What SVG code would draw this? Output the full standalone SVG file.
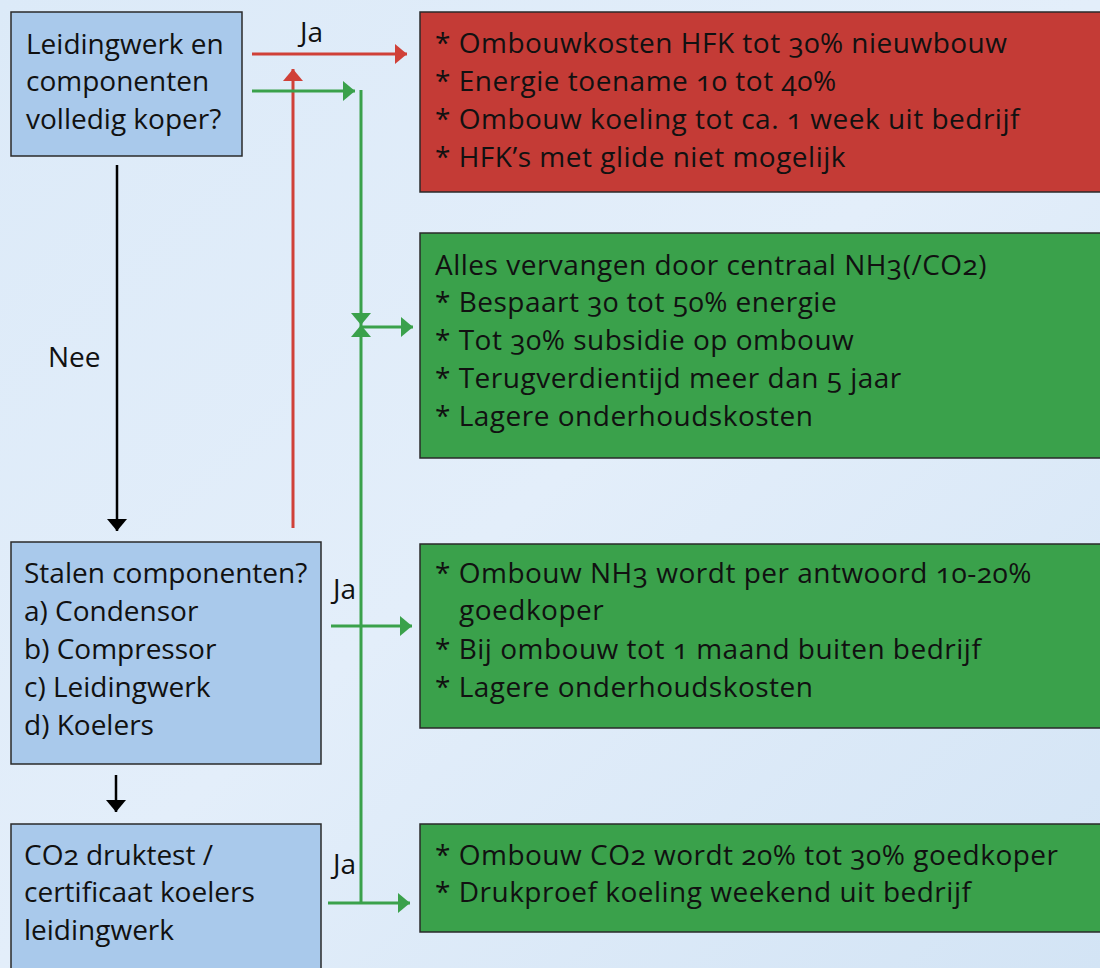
<svg xmlns="http://www.w3.org/2000/svg" width="1100" height="968" viewBox="0 0 1100 968">
<style>
text{font-family:"Open Sans","Noto Sans","Liberation Sans",sans-serif;font-size:28px;fill:#111;font-feature-settings:"onum" 1}
.w text{letter-spacing:0.5px}
.q{fill:#a9c9eb;stroke:#2a2a2a;stroke-width:1.5}
.r{fill:#c43b36;stroke:#2a2a2a;stroke-width:1.5}
.g{fill:#3aa14b;stroke:#2a2a2a;stroke-width:1.5}
.lg{stroke:#3aa14b;stroke-width:3;fill:none}
.lr{stroke:#d04038;stroke-width:3;fill:none}
.lk{stroke:#000;stroke-width:2.5;fill:none}
</style>
<defs>
<linearGradient id="bg" x1="0" y1="0" x2="1" y2="1">
<stop offset="0" stop-color="#dceaf8"/>
<stop offset="0.5" stop-color="#e3eefa"/>
<stop offset="1" stop-color="#d3e4f5"/>
</linearGradient>
<marker id="ag" viewBox="0 0 12 20" refX="12" refY="10" markerWidth="12" markerHeight="20" orient="auto" markerUnits="userSpaceOnUse"><path d="M0,0 L12,10 L0,20Z" fill="#3aa14b"/></marker>
<marker id="ar" viewBox="0 0 12 20" refX="12" refY="10" markerWidth="12" markerHeight="20" orient="auto" markerUnits="userSpaceOnUse"><path d="M0,0 L12,10 L0,20Z" fill="#d04038"/></marker>
<marker id="ak" viewBox="0 0 12 20" refX="12" refY="10" markerWidth="12" markerHeight="20" orient="auto" markerUnits="userSpaceOnUse"><path d="M0,0 L12,10 L0,20Z" fill="#000"/></marker>
</defs>
<rect width="1100" height="968" fill="url(#bg)"/>

<g id="n1"><rect class="q" x="11" y="12" width="231" height="144"/>
<text x="26" y="54">Leidingwerk en</text><text x="26" y="91">componenten</text><text x="26" y="129">volledig koper?</text></g>

<g id="n2"><rect class="q" x="11" y="542" width="310" height="222"/>
<text x="24" y="583">Stalen componenten?</text><text x="24" y="621">a) Condensor</text><text x="24" y="659">b) Compressor</text><text x="24" y="697">c) Leidingwerk</text><text x="24" y="735">d) Koelers</text></g>

<g id="n3"><rect class="q" x="11" y="824" width="310" height="160"/>
<text x="24" y="865">CO2 druktest /</text><text x="24" y="902">certificaat koelers</text><text x="24" y="940">leidingwerk</text></g>

<g id="r1" class="w"><rect class="r" x="420" y="12" width="700" height="180"/>
<text x="435" y="53">* Ombouwkosten HFK tot 30% nieuwbouw</text>
<text x="435" y="91">* Energie toename 10 tot 40%</text>
<text x="435" y="129">* Ombouw koeling tot ca. 1 week uit bedrijf</text>
<text x="435" y="167">* HFK’s met glide niet mogelijk</text></g>

<g id="g1" class="w"><rect class="g" x="420" y="233" width="700" height="225"/>
<text x="435" y="275">Alles vervangen door centraal NH3(/CO2)</text>
<text x="435" y="312">* Bespaart 30 tot 50% energie</text>
<text x="435" y="350">* Tot 30% subsidie op ombouw</text>
<text x="435" y="388">* Terugverdientijd meer dan 5 jaar</text>
<text x="435" y="426">* Lagere onderhoudskosten</text></g>

<g id="g2" class="w"><rect class="g" x="420" y="544" width="700" height="184"/>
<text x="435" y="583">* Ombouw NH3 wordt per antwoord 10-20%</text>
<text x="459" y="620">goedkoper</text>
<text x="435" y="659">* Bij ombouw tot 1 maand buiten bedrijf</text>
<text x="435" y="697">* Lagere onderhoudskosten</text></g>

<g id="g3" class="w"><rect class="g" x="420" y="824" width="700" height="108"/>
<text x="435" y="865">* Ombouw CO2 wordt 20% tot 30% goedkoper</text>
<text x="435" y="902">* Drukproef koeling weekend uit bedrijf</text></g>

<g id="connectors">
<line class="lr" x1="252" y1="54" x2="407" y2="54" marker-end="url(#ar)"/>
<line class="lr" x1="293" y1="528" x2="293" y2="69" marker-end="url(#ar)"/>
<line class="lg" x1="252" y1="91" x2="355" y2="91" marker-end="url(#ag)"/>
<line class="lg" x1="361" y1="90" x2="361" y2="325" marker-end="url(#ag)"/>
<line class="lg" x1="361" y1="903" x2="361" y2="325" marker-end="url(#ag)"/>
<line class="lg" x1="361" y1="327" x2="413" y2="327" marker-end="url(#ag)"/>
<line class="lg" x1="331" y1="626" x2="412" y2="626" marker-end="url(#ag)"/>
<line class="lg" x1="328" y1="903" x2="410" y2="903" marker-end="url(#ag)"/>
<line class="lk" x1="117" y1="165" x2="117" y2="531" marker-end="url(#ak)"/>
<line class="lk" x1="116" y1="775" x2="116" y2="812" marker-end="url(#ak)"/>
<text x="300" y="42">Ja</text>
<text x="48" y="367">Nee</text>
<text x="333" y="599">Ja</text>
<text x="333" y="874">Ja</text>
</g>
</svg>
